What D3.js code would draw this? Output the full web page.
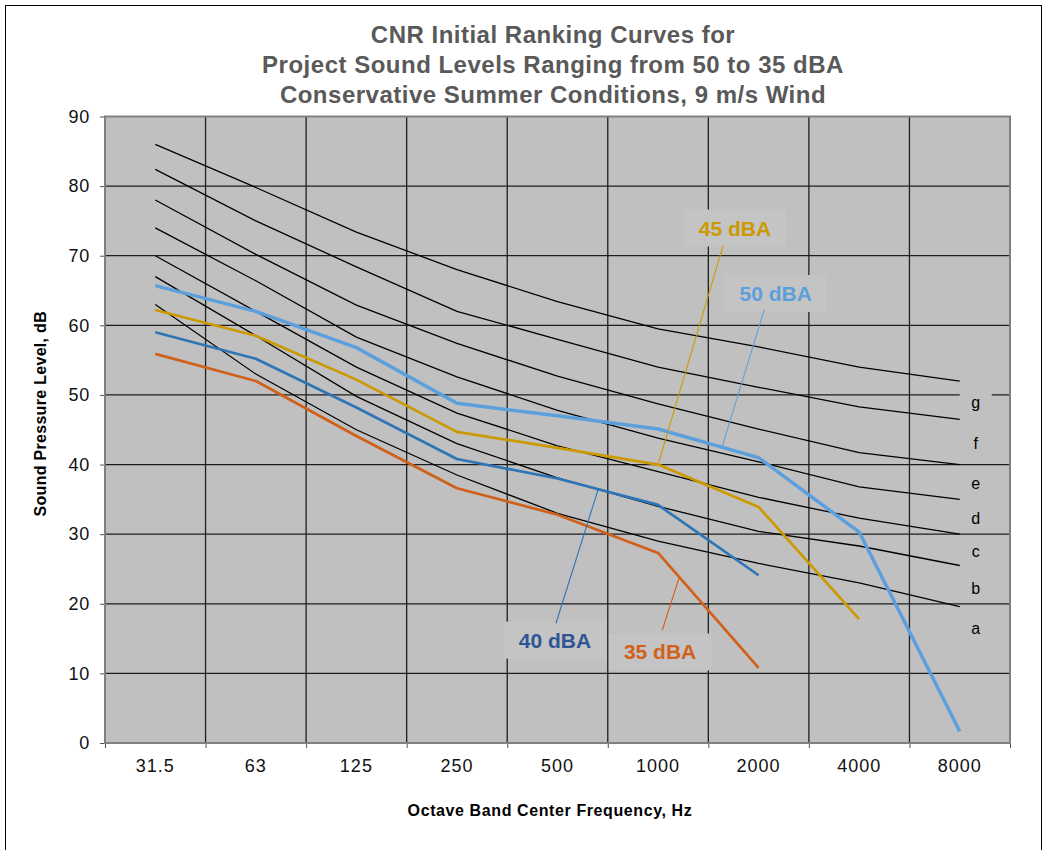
<!DOCTYPE html>
<html>
<head>
<meta charset="utf-8">
<script src="https://cdn.jsdelivr.net/npm/d3@7"></script>
<style>
  body { margin: 0; background: #fff; }
  text { font-family: "Liberation Sans", Arial, sans-serif; }
</style>
</head>
<body>
<svg id="chart" width="1047" height="850"></svg>
<script>
// Octave band centre frequencies (Hz)
const frequencies = ["31.5", "63", "125", "250", "500", "1000", "2000", "4000", "8000"];

// CNR ranking curves a–g, sound pressure level (dB) per octave band
const rankLetters = ["a", "b", "c", "d", "e", "f", "g"];
const rankA = [63.0, 53.0, 45.0, 38.5, 33.0, 29.0, 25.8, 23.0, 19.6];
const rankB = [67.0, 58.5, 49.8, 43.0, 38.1, 34.0, 30.4, 28.3, 25.5];
const rankC = [70.0, 62.0, 54.0, 47.4, 42.7, 39.0, 35.3, 32.3, 30.0];
const rankD = [74.0, 66.4, 58.3, 52.6, 47.8, 43.8, 40.4, 36.8, 35.0];
const rankE = [78.0, 70.2, 62.9, 57.4, 52.7, 48.7, 45.1, 41.7, 40.0];
const rankF = [82.4, 75.0, 68.4, 62.0, 58.0, 54.0, 51.1, 48.3, 46.5];
const rankG = [86.0, 79.8, 73.4, 68.0, 63.4, 59.5, 56.9, 54.0, 52.0];

// Project sound level spectra (dB) – series stop where the band drops off
const project50 = [65.7, 62.0, 56.8, 48.8, 47.0, 45.1, 41.0, 30.3, 1.7];
const project45 = [62.2, 58.5, 52.2, 44.7, 42.4, 40.0, 33.9, 17.8];
const project40 = [59.0, 55.2, 48.2, 40.8, 38.0, 34.2, 24.1];
const project35 = [55.9, 52.0, 44.1, 36.6, 32.8, 27.3, 10.8];
const projectNames = ["50 dBA", "45 dBA", "40 dBA", "35 dBA"];

const yTicks = [0, 10, 20, 30, 40, 50, 60, 70, 80, 90];

const titleLines = [
  "CNR Initial Ranking Curves for",
  "Project Sound Levels Ranging from 50 to 35 dBA",
  "Conservative Summer Conditions, 9 m/s Wind"
];

// ---- layout -------------------------------------------------------------
const plot = { left: 105, right: 1010, top: 116.5, bottom: 743 };

const svg = d3.select("#chart");

// x works on band index so grid lines sit between the band centres
const x = d3.scaleLinear().domain([-0.5, frequencies.length - 0.5]).range([plot.left, plot.right]);
const y = d3.scaleLinear().domain([0, 90]).range([plot.bottom, plot.top]);

// outer frame
svg.append("rect")
  .attr("x", 5.5).attr("y", 5.5).attr("width", 1036).attr("height", 900)
  .attr("fill", "#fff").attr("stroke", "#000").attr("stroke-width", 1);

// title
svg.append("g").selectAll("text").data(titleLines).join("text")
  .attr("x", 553).attr("y", (d, i) => 43 + i * 30)
  .attr("text-anchor", "middle")
  .attr("font-size", 24).attr("font-weight", "bold")
  .attr("letter-spacing", 0.5)
  .attr("fill", "#595959")
  .text(d => d);

// plot background
svg.append("rect")
  .attr("x", plot.left).attr("y", plot.top)
  .attr("width", plot.right - plot.left).attr("height", plot.bottom - plot.top)
  .attr("fill", "#c0c0c0");

// grid
const grid = svg.append("g").attr("stroke", "#1e1e1e").attr("stroke-width", 1.3);
grid.selectAll("line.v").data(d3.range(0.5, frequencies.length - 1, 1)).join("line")
  .attr("class", "v")
  .attr("x1", d => x(d)).attr("x2", d => x(d))
  .attr("y1", plot.top).attr("y2", plot.bottom);
grid.selectAll("line.h").data(yTicks.filter(t => t > 0 && t < 90)).join("line")
  .attr("class", "h")
  .attr("x1", plot.left).attr("x2", plot.right)
  .attr("y1", d => y(d)).attr("y2", d => y(d));

// axes
const yAxis = svg.append("g")
  .attr("transform", `translate(${plot.left},0)`)
  .call(d3.axisLeft(y).tickValues(yTicks).tickSize(5).tickPadding(10));
yAxis.select(".domain").remove();
yAxis.selectAll("line").attr("stroke", "#555");
yAxis.selectAll("text").attr("font-size", 18).attr("fill", "#111")
  .attr("letter-spacing", 0.8)
  .attr("font-family", "'Liberation Sans', Arial, sans-serif");

const xAxis = svg.append("g")
  .attr("transform", `translate(0,${plot.bottom})`)
  .call(d3.axisBottom(x).tickValues(d3.range(-0.5, frequencies.length, 1)).tickSize(5).tickFormat(""));
xAxis.select(".domain").remove();
xAxis.selectAll("line").attr("stroke", "#555");

svg.append("g").selectAll("text").data(frequencies).join("text")
  .attr("x", (d, i) => x(i)).attr("y", 772)
  .attr("text-anchor", "middle")
  .attr("font-size", 18).attr("fill", "#111")
  .attr("letter-spacing", 1)
  .text(d => d);

// plot frame
svg.append("rect")
  .attr("x", plot.left).attr("y", plot.top)
  .attr("width", plot.right - plot.left).attr("height", plot.bottom - plot.top)
  .attr("fill", "none").attr("stroke", "#808080").attr("stroke-width", 2);

// axis titles
svg.append("text")
  .attr("transform", `translate(46,${(plot.top + plot.bottom) / 2 - 16}) rotate(-90)`)
  .attr("text-anchor", "middle")
  .attr("font-size", 16).attr("font-weight", "bold")
  .attr("letter-spacing", 0.3)
  .text("Sound Pressure Level, dB");
svg.append("text")
  .attr("x", 550).attr("y", 816)
  .attr("text-anchor", "middle")
  .attr("font-size", 16).attr("font-weight", "bold")
  .attr("letter-spacing", 0.6)
  .text("Octave Band Center Frequency, Hz");

const line = d3.line().x((d, i) => x(i)).y(d => y(d));

const projectSeries = [project50, project45, project40, project35];
const projectColors = ["#5ba0dc", "#cc9900", "#2e75b6", "#d0601a"];
const projectTextColors = ["#5ba0dc", "#cc9900", "#2f5597", "#d0601a"];

// where each name sits (band index, dB at baseline) and where its leader starts / ends
const callouts = [
  { s: 0, tx: 6.17, ty: 63.5, fx: 6.057, fy: 62.3, toX: 5.636 },
  { s: 1, tx: 5.765, ty: 72.9, fx: 5.648, fy: 71.5, toX: 5.0 },
  { s: 2, tx: 3.975, ty: 13.7, fx: 3.985, fy: 17.2, toX: 4.405 },
  { s: 3, tx: 5.02, ty: 12.0, fx: 5.042, fy: 16.2, toX: 5.211 }
];

function valueAt(series, idx) {
  const i0 = Math.floor(idx), t = idx - i0;
  if (t === 0) return series[i0];
  return series[i0] + (series[i0 + 1] - series[i0]) * t;
}

const boxLayer = svg.append("g");
const curveLayer = svg.append("g");
const labelLayer = svg.append("g");

// ranking curves a–g
const rankSeries = [rankA, rankB, rankC, rankD, rankE, rankF, rankG];
curveLayer.selectAll("path.rank").data(rankSeries).join("path")
  .attr("class", "rank")
  .attr("d", line)
  .attr("fill", "none").attr("stroke", "#000").attr("stroke-width", 1.3);

// rank letters to the right of the 8000 Hz end points
const last = frequencies.length - 1;
rankLetters.forEach((L, i) => {
  const endHere = rankSeries[i][last];
  const endBelow = i > 0 ? rankSeries[i - 1][last] : endHere - 5.6;
  const cy = y((endHere + endBelow) / 2) + 2;
  const cx = x(last) + 16;
  boxLayer.append("rect")
    .attr("x", cx - 16).attr("y", cy - 10).attr("width", 32).attr("height", 20)
    .attr("fill", "#c0c0c0");
  labelLayer.append("text")
    .attr("x", cx).attr("y", cy + 5.5)
    .attr("text-anchor", "middle").attr("font-size", 16).attr("fill", "#000")
    .text(L);
});

// project curves
curveLayer.selectAll("path.proj").data(projectSeries).join("path")
  .attr("class", "proj")
  .attr("d", line)
  .attr("fill", "none")
  .attr("stroke", (d, i) => projectColors[i])
  .attr("stroke-width", (d, i) => i === 0 ? 3.5 : 2.7)
  .attr("stroke-linejoin", "round");

// callouts
callouts.forEach(c => {
  const t = labelLayer.append("text")
    .attr("x", x(c.tx)).attr("y", y(c.ty))
    .attr("text-anchor", "middle")
    .attr("font-size", 21).attr("font-weight", "bold")
    .attr("fill", projectTextColors[c.s])
    .text(projectNames[c.s]);
  const bb = t.node().getBBox();
  boxLayer.append("rect")
    .attr("x", bb.x - 15).attr("y", bb.y - 7)
    .attr("width", bb.width + 30).attr("height", bb.height + 14)
    .attr("fill", "#c4c4c4");
  const series = projectSeries[c.s];
  labelLayer.append("line")
    .attr("x1", x(c.fx)).attr("y1", y(c.fy))
    .attr("x2", x(c.toX)).attr("y2", y(valueAt(series, c.toX)))
    .attr("stroke", projectColors[c.s]).attr("stroke-width", 1.1);
});
</script>
</body>
</html>
